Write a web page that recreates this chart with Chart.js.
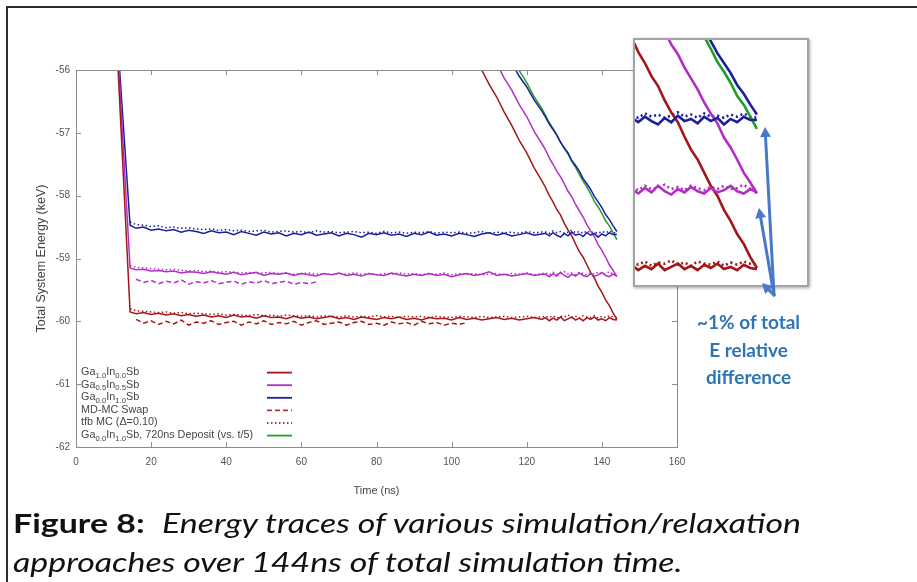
<!DOCTYPE html>
<html>
<head>
<meta charset="utf-8">
<script src="https://cdn.jsdelivr.net/npm/chart.js@4.4.1/dist/chart.umd.min.js"></script>
<style>
  html, body { margin: 0; padding: 0; background: #fff; overflow: hidden; }
  body { width: 917px; height: 582px; position: relative; }
  #frame { position: absolute; left: 6px; top: 6px; width: 1000px; height: 700px; border: 2px solid #2b2b2b; }
  #main { position: absolute; left: 0; top: 0; }
  #zoomBox { position: absolute; left: 633px; top: 38px; width: 172px; height: 245px;
    border: 2px solid #a3a3a3; background: #fff; box-shadow: 1px 1px 3px rgba(0,0,0,0.35); }
  #zoomBox canvas { display: block; }
  #arrows { position: absolute; left: 0; top: 0; }
  #note { position: absolute; top: 308px; font-family: Lato, "Open Sans", sans-serif; font-weight: bold;
    font-size: 19px; line-height: 27.5px; color: #2e75b6; text-align: center; white-space: nowrap;
    display: inline-block; transform-origin: 50% 50%; }
  #caption { position: absolute; left: 13px; top: 503px; font-family: Lato, "Open Sans", sans-serif;
    font-size: 27px; line-height: 39px; color: #111; white-space: nowrap; display: inline-block;
    transform-origin: 0 0; }
  #caption b { font-weight: bold; }
  #caption i { font-style: italic; }
</style>
</head>
<body>
<div id="frame"></div>
<canvas id="main" width="917" height="582"></canvas>
<div id="zoomBox"><canvas id="zoom" width="172" height="245"></canvas></div>
<canvas id="arrows" width="917" height="582"></canvas>
<div id="note"><span id="noteLine1">~1% of total</span><br>E relative<br>difference</div>
<div id="caption"><span id="capLine1"><b>Figure 8:</b>&nbsp; <i>Energy traces of various simulation/relaxation</i></span><br><i>approaches over 144ns of total simulation time.</i></div>

<script>
// ---- data (time in ns, energy in keV) ----
const xTicks = [0, 20, 40, 60, 80, 100, 120, 140, 160];
const yTicks = [-62, -61, -60, -59, -58, -57, -56];

// start of the initial relaxation drop (red, magenta, blue), above the visible range
const dropStartTime = [10.8, 10.95, 11.05];
const dropStartEnergy = [-55.5, -55.5, -55.5];

// 2 ns steps, then 1 ns steps over the part that the inset magnifies
const plateauTimes = [14.4, 16, 18, 20, 22, 24, 26, 28, 30, 32,
  34, 36, 38, 40, 42, 44, 46, 48, 50, 52,
  54, 56, 58, 60, 62, 64, 66, 68, 70, 72,
  74, 76, 78, 80, 82, 84, 86, 88, 90, 92,
  94, 96, 98, 100, 102, 104, 106, 108, 110, 112,
  114, 116, 118, 120, 122, 124,
  125, 126, 127, 128, 129, 130, 131, 132, 133, 134,
  135, 136, 137, 138, 139, 140, 141, 142, 143, 144];

const ga10Solid = [-59.85, -59.88, -59.86, -59.89, -59.87, -59.90, -59.88, -59.91, -59.89, -59.92,
  -59.90, -59.93, -59.91, -59.94, -59.90, -59.93, -59.92, -59.95, -59.91, -59.94,
  -59.93, -59.96, -59.92, -59.95, -59.93, -59.96, -59.94, -59.92, -59.96, -59.94,
  -59.97, -59.93, -59.95, -59.97, -59.94, -59.96, -59.93, -59.97, -59.95, -59.98,
  -59.94, -59.96, -59.95, -59.98, -59.94, -59.97, -59.95, -59.98, -59.96, -59.94,
  -59.97, -59.95, -59.98, -59.96, -59.94, -59.97,
  -59.94, -59.99, -59.95, -59.98, -59.93, -59.99, -59.96, -59.93, -59.98, -59.95,
  -59.99, -59.94, -59.97, -59.93, -59.98, -59.96, -59.99, -59.94, -59.97, -59.98];
const ga05Solid = [-59.15, -59.18, -59.17, -59.20, -59.19, -59.21, -59.20, -59.23, -59.21, -59.22,
  -59.24, -59.21, -59.23, -59.25, -59.22, -59.26, -59.24, -59.22, -59.27, -59.24,
  -59.25, -59.23, -59.27, -59.24, -59.26, -59.28, -59.24, -59.26, -59.23, -59.27,
  -59.25, -59.28, -59.24, -59.26, -59.27, -59.23, -59.26, -59.28, -59.25, -59.27,
  -59.24, -59.27, -59.25, -59.29, -59.26, -59.24, -59.27, -59.25, -59.21, -59.27,
  -59.25, -59.28, -59.26, -59.24, -59.27, -59.25,
  -59.25, -59.29, -59.24, -59.28, -59.22, -59.27, -59.30, -59.25, -59.28, -59.23,
  -59.27, -59.29, -59.24, -59.28, -59.26, -59.22, -59.27, -59.29, -59.25, -59.28];
const ga00Solid = [-58.47, -58.52, -58.50, -58.55, -58.53, -58.56, -58.54, -58.58, -58.55, -58.57,
  -58.60, -58.56, -58.59, -58.58, -58.62, -58.57, -58.60, -58.63, -58.58, -58.61,
  -58.59, -58.64, -58.60, -58.62, -58.58, -58.63, -58.61, -58.59, -58.64, -58.60,
  -58.62, -58.66, -58.60, -58.62, -58.59, -58.63, -58.61, -58.65, -58.60, -58.62,
  -58.58, -58.63, -58.61, -58.64, -58.60, -58.62, -58.65, -58.61, -58.59, -58.63,
  -58.60, -58.64, -58.62, -58.59, -58.63, -58.61,
  -58.60, -58.64, -58.59, -58.63, -58.66, -58.60, -58.64, -58.58, -58.63, -58.61,
  -58.65, -58.59, -58.63, -58.60, -58.66, -58.61, -58.64, -58.59, -58.62, -58.62];

// tfb MC (dotted)
const ga10Tfb = [-59.80, -59.83, -59.84, -59.85, -59.86, -59.85, -59.87, -59.86, -59.88, -59.87,
  -59.88, -59.89, -59.88, -59.90, -59.89, -59.90, -59.91, -59.89, -59.91, -59.90,
  -59.92, -59.90, -59.91, -59.92, -59.91, -59.93, -59.91, -59.92, -59.93, -59.91,
  -59.93, -59.92, -59.93, -59.91, -59.93, -59.92, -59.94, -59.92, -59.93, -59.92,
  -59.94, -59.92, -59.93, -59.94, -59.92, -59.93, -59.94, -59.92, -59.94, -59.93,
  -59.92, -59.94, -59.93, -59.92, -59.94, -59.93,
  -59.92, -59.94, -59.91, -59.95, -59.92, -59.93, -59.90, -59.94, -59.92, -59.95,
  -59.91, -59.93, -59.94, -59.91, -59.95, -59.92, -59.94, -59.91, -59.93, -59.94];
const ga05Tfb = [-59.11, -59.14, -59.15, -59.16, -59.17, -59.18, -59.17, -59.19, -59.20, -59.19,
  -59.21, -59.20, -59.22, -59.21, -59.22, -59.23, -59.22, -59.24, -59.23, -59.22,
  -59.24, -59.23, -59.25, -59.24, -59.23, -59.25, -59.24, -59.26, -59.24, -59.25,
  -59.23, -59.25, -59.24, -59.26, -59.24, -59.25, -59.23, -59.25, -59.24, -59.26,
  -59.24, -59.25, -59.23, -59.26, -59.24, -59.25, -59.24, -59.26, -59.25, -59.24,
  -59.26, -59.24, -59.25, -59.23, -59.26, -59.24,
  -59.23, -59.26, -59.22, -59.25, -59.24, -59.21, -59.25, -59.23, -59.26, -59.22,
  -59.24, -59.26, -59.23, -59.25, -59.22, -59.25, -59.24, -59.21, -59.25, -59.25];
const ga00Tfb = [-58.42, -58.46, -58.47, -58.49, -58.48, -58.51, -58.50, -58.52, -58.51, -58.53,
  -58.54, -58.53, -58.55, -58.54, -58.56, -58.55, -58.57, -58.56, -58.55, -58.58,
  -58.57, -58.56, -58.58, -58.57, -58.59, -58.56, -58.58, -58.57, -58.59, -58.58,
  -58.57, -58.59, -58.58, -58.60, -58.57, -58.59, -58.58, -58.60, -58.58, -58.59,
  -58.57, -58.60, -58.58, -58.59, -58.58, -58.60, -58.59, -58.57, -58.60, -58.58,
  -58.59, -58.58, -58.60, -58.57, -58.59, -58.58,
  -58.58, -58.60, -58.56, -58.59, -58.57, -58.60, -58.58, -58.55, -58.59, -58.57,
  -58.60, -58.56, -58.59, -58.58, -58.60, -58.57, -58.59, -58.56, -58.59, -58.60];

// MD-MC swap (dashed)
const swapTimes = [16, 18, 20, 22, 24, 26, 28, 30, 32, 34,
  36, 38, 40, 42, 44, 46, 48, 50, 52, 54,
  56, 58, 60, 62, 64, 66, 68, 70, 72, 74,
  76, 78, 80, 82, 84, 86, 88, 90, 92, 94,
  96, 98, 100, 102, 104];
const ga10Swap = [-59.97, -60.03, -59.99, -60.05, -60.00, -60.04, -59.98, -60.06, -60.01, -60.03,
  -59.99, -60.05, -60.02, -60.00, -60.06, -60.01, -60.04, -59.99, -60.05, -60.02,
  -60.04, -60.00, -60.06, -60.02, -59.99, -60.05, -60.03, -60.01, -60.06, -60.02,
  -60.00, -60.05, -60.03, -60.06, -60.01, -60.04, -60.02, -60.06, -60.00, -60.04,
  -60.02, -60.06, -60.03, -60.05, -60.02];
const ga05Swap = [-59.33, -59.38, -59.35, -59.40, -59.36, -59.39, -59.34, -59.41, -59.37, -59.39,
  -59.35, -59.40, -59.38, -59.36, -59.41, -59.37, -59.39, -59.35, -59.40, -59.38,
  -59.36, -59.41, -59.38, -59.40, -59.37];

// deposit traces (the long diagonals on the right)
const depositTimes = [100, 102, 104, 106, 108, 110, 112, 114, 116, 118,
  120, 122, 124,
  125, 126, 127, 128, 129, 130, 131, 132, 133, 134,
  135, 136, 137, 138, 139, 140, 141, 142, 143, 144];
const ga10Deposit = [-55.12, -55.34, -55.56, -55.79, -56.00, -56.23, -56.43, -56.67, -56.88, -57.12,
  -57.32, -57.56, -57.76,
  -57.87, -58.00, -58.10, -58.22, -58.31, -58.44, -58.55, -58.64, -58.77, -58.89,
  -58.98, -59.10, -59.22, -59.31, -59.44, -59.54, -59.66, -59.75, -59.87, -59.97];
const ga05Deposit = [-54.63, -54.84, -55.06, -55.27, -55.48, -55.69, -55.90, -56.13, -56.32, -56.55,
  -56.74, -56.98, -57.17,
  -57.27, -57.40, -57.50, -57.61, -57.70, -57.81, -57.93, -58.02, -58.14, -58.24,
  -58.34, -58.46, -58.56, -58.65, -58.78, -58.87, -58.98, -59.10, -59.19, -59.29];
const ga00Deposit = [-54.36, -54.55, -54.74, -54.94, -55.13, -55.32, -55.51, -55.70, -55.89, -56.10,
  -56.27, -56.48, -56.65,
  -56.75, -56.86, -56.95, -57.04, -57.15, -57.24, -57.32, -57.44, -57.52, -57.61,
  -57.73, -57.81, -57.90, -58.01, -58.10, -58.19, -58.30, -58.38, -58.48, -58.57];
const ga00Deposit720 = [-54.13, -54.34, -54.55, -54.75, -54.96, -55.17, -55.38, -55.58, -55.79, -56.01,
  -56.20, -56.43, -56.61,
  -56.72, -56.84, -56.93, -57.03, -57.15, -57.25, -57.34, -57.46, -57.55, -57.66,
  -57.77, -57.86, -57.97, -58.09, -58.18, -58.28, -58.40, -58.48, -58.59, -58.70];

const legendLabels = ['Ga_{1.0}In_{0.0}Sb', 'Ga_{0.5}In_{0.5}Sb', 'Ga_{0.0}In_{1.0}Sb',
  'MD-MC Swap', 'tfb MC (\u0394=0.10)', 'Ga_{0.0}In_{1.0}Sb, 720ns Deposit (vs. t/5)'];

// ---- helpers ----
const RED = '#a3161a', MAG = '#b22fc4', BLUE = '#1b1f9c', GREEN = '#1f9e2a';
const FONT = '"Liberation Sans", Arial, sans-serif';

function pts(xs, ys) {
  return ys.map((v, i) => ({ x: xs[i], y: v }));
}
function withDrop(k, ys) {
  return [{ x: dropStartTime[k], y: dropStartEnergy[k] }].concat(pts(plateauTimes, ys));
}

function makeDatasets(w, dot) {
  const ds = (data, color, dash, extra) => Object.assign({
    data: data, borderColor: color, borderWidth: w, borderDash: dash || [],
    pointRadius: 0, tension: 0, fill: false
  }, extra || {});
  return [
    ds(withDrop(0, ga10Solid), RED, null, { legend: 0 }),
    ds(withDrop(1, ga05Solid), MAG, null, { legend: 1 }),
    ds(withDrop(2, ga00Solid), BLUE, null, { legend: 2 }),
    ds(pts(depositTimes, ga10Deposit), RED),
    ds(pts(depositTimes, ga05Deposit), MAG),
    ds(pts(depositTimes, ga00Deposit), BLUE),
    ds(pts(depositTimes, ga00Deposit720), GREEN, null, { legend: 5 }),
    ds(pts(plateauTimes, ga10Tfb), RED, dot, { legend: 4, legendColor: '#a8306e' }),
    ds(pts(plateauTimes, ga05Tfb), MAG, dot),
    ds(pts(plateauTimes, ga00Tfb), BLUE, dot),
    ds(pts(swapTimes, ga10Swap), RED, [5, 3], { legend: 3, legendColor: '#b03a30' }),
    ds(pts(swapTimes.slice(0, ga05Swap.length), ga05Swap), MAG, [5, 3])
  ];
}

function drawRich(ctx, text, x, y, size) {
  const parts = text.split(/(_\{[^}]*\})/);
  parts.forEach(p => {
    if (!p) return;
    if (p.startsWith('_{')) {
      const s = p.slice(2, -1);
      ctx.font = (size * 0.72) + 'px ' + FONT;
      ctx.fillText(s, x, y + size * 0.32);
      x += ctx.measureText(s).width;
    } else {
      ctx.font = size + 'px ' + FONT;
      ctx.fillText(p, x, y);
      x += ctx.measureText(p).width;
    }
  });
}

// gnuplot style frame: box, inward ticks, legend inside the plot
const gnuFrame = {
  id: 'gnuFrame',
  afterDraw(chart) {
    const { ctx, chartArea: a, scales: { x, y } } = chart;
    ctx.save();
    ctx.strokeStyle = '#8c8c8c';
    ctx.lineWidth = 1;
    ctx.strokeRect(Math.round(a.left) + 0.5, Math.round(a.top) + 0.5,
      Math.round(a.width), Math.round(a.height));
    ctx.beginPath();
    x.ticks.forEach(t => {
      if (t.value <= x.min || t.value >= x.max) return;
      const px = Math.round(x.getPixelForValue(t.value)) + 0.5;
      ctx.moveTo(px, a.bottom); ctx.lineTo(px, a.bottom - 5);
      ctx.moveTo(px, a.top); ctx.lineTo(px, a.top + 5);
    });
    y.ticks.forEach(t => {
      if (t.value <= y.min || t.value >= y.max) return;
      const py = Math.round(y.getPixelForValue(t.value)) + 0.5;
      ctx.moveTo(a.left, py); ctx.lineTo(a.left + 5, py);
      ctx.moveTo(a.right, py); ctx.lineTo(a.right - 5, py);
    });
    ctx.stroke();

    // legend
    const rows = chart.data.datasets
      .filter(d => d.legend !== undefined)
      .sort((p, q) => p.legend - q.legend);
    const rowH = 12.6;
    const top = y.getPixelForValue(-60.8);
    ctx.textBaseline = 'middle';
    rows.forEach((d, i) => {
      const ry = top + i * rowH;
      ctx.fillStyle = '#454545';
      drawRich(ctx, legendLabels[d.legend], a.left + 5, ry + 0.5, 10.8);
      ctx.strokeStyle = d.legendColor || d.borderColor;
      ctx.lineWidth = 1.8;
      ctx.setLineDash(d.borderDash);
      ctx.beginPath();
      ctx.moveTo(a.left + 191, ry + 1);
      ctx.lineTo(a.left + 216, ry + 1);
      ctx.stroke();
      ctx.setLineDash([]);
    });
    ctx.restore();
  }
};

new Chart(document.getElementById('main'), {
  type: 'line',
  data: { datasets: makeDatasets(1.5, [1.5, 2.5]) },
  options: {
    responsive: false,
    animation: false,
    events: [],
    layout: { padding: { left: 34, top: 70, right: 240, bottom: 84.4 } },
    plugins: { legend: { display: false }, tooltip: { enabled: false } },
    scales: {
      x: {
        type: 'linear', min: 0, max: 160,
        afterBuildTicks: s => { s.ticks = xTicks.map(v => ({ value: v })); },
        ticks: { padding: 9, color: '#555', font: { family: FONT, size: 10 }, maxRotation: 0 },
        grid: { display: false, drawTicks: false },
        border: { display: false },
        title: { display: true, text: 'Time (ns)', color: '#444', padding: 0,
          font: { family: FONT, size: 11 } },
        afterFit: s => { s.height = 50.6; }
      },
      y: {
        type: 'linear', min: -62, max: -56,
        afterBuildTicks: s => { s.ticks = yTicks.map(v => ({ value: v })); },
        ticks: { padding: 6, color: '#555', font: { family: FONT, size: 10 } },
        grid: { display: false, drawTicks: false },
        border: { display: false },
        title: { display: true, text: 'Total System Energy (keV)', color: '#444', padding: 0,
          font: { family: FONT, size: 12.5 } },
        afterFit: s => { s.width = 42; }
      }
    }
  },
  plugins: [gnuFrame]
});

// zoomed inset of the end of the runs
new Chart(document.getElementById('zoom'), {
  type: 'line',
  data: { datasets: makeDatasets(2.6, [2, 3]) },
  options: {
    responsive: false,
    animation: false,
    events: [],
    layout: { padding: 0 },
    plugins: { legend: { display: false }, tooltip: { enabled: false } },
    scales: {
      x: { type: 'linear', display: false, min: 125.5, max: 151.6 },
      y: { type: 'linear', display: false, min: -60.125, max: -57.89 }
    }
  }
});

// arrows pointing at the run ends
(function () {
  const ctx = document.getElementById('arrows').getContext('2d');
  const base = [774, 295];
  const tips = [[765, 127], [759, 208], [762, 283]];
  ctx.strokeStyle = '#4a78c8';
  ctx.fillStyle = '#4a78c8';
  ctx.lineWidth = 3;
  ctx.lineCap = 'round';
  tips.forEach(t => {
    const ang = Math.atan2(t[1] - base[1], t[0] - base[0]);
    const hx = t[0] - 10 * Math.cos(ang), hy = t[1] - 10 * Math.sin(ang);
    ctx.beginPath();
    ctx.moveTo(base[0], base[1]);
    ctx.lineTo(hx, hy);
    ctx.stroke();
    ctx.beginPath();
    ctx.moveTo(t[0], t[1]);
    ctx.lineTo(hx + 5.5 * Math.cos(ang + Math.PI / 2), hy + 5.5 * Math.sin(ang + Math.PI / 2));
    ctx.lineTo(hx + 5.5 * Math.cos(ang - Math.PI / 2), hy + 5.5 * Math.sin(ang - Math.PI / 2));
    ctx.closePath();
    ctx.fill();
  });
})();

// fit the text blocks to the widths in the figure
(function () {
  const cap = document.getElementById('caption');
  const w1 = document.getElementById('capLine1').getBoundingClientRect().width;
  cap.style.transform = 'scaleX(' + (788 / w1) + ')';
  const note = document.getElementById('note');
  const n1 = document.getElementById('noteLine1').getBoundingClientRect().width;
  const nw = note.getBoundingClientRect().width;
  note.style.left = (749 - nw / 2) + 'px';
  note.style.transform = 'scaleX(' + (103 / n1) + ')';
})();
</script>
</body>
</html>
